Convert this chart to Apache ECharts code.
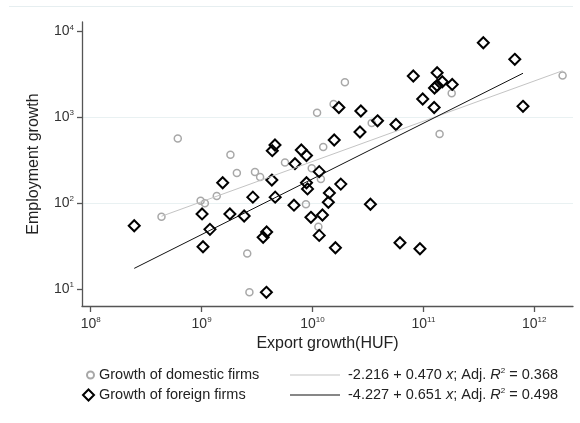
<!DOCTYPE html>
<html>
<head>
<meta charset="utf-8">
<script src="https://cdn.jsdelivr.net/npm/echarts@6/dist/echarts.min.js"></script>
<style>
html, body { margin: 0; padding: 0; background: #fff; }
#chart { width: 580px; height: 423px; }
</style>
</head>
<body>
<div id="chart"></div>
<script>
// export growth (HUF) vs employment growth, both on log scale
var domesticX = [4.35e8, 6.1e8, 9.8e8, 1.07e9, 1.37e9, 1.82e9, 2.08e9, 2.58e9, 2.70e9, 3.03e9, 3.37e9, 5.65e9,
                 8.73e9, 9.84e9, 1.10e10, 1.13e10, 1.19e10, 1.25e10, 1.55e10, 1.96e10, 3.42e10, 1.40e11, 1.80e11, 1.80e12];
var domesticY = [69, 565, 106, 99, 121, 365, 224, 25.7, 9.1, 230, 201, 297,
                 96.6, 254, 1127, 52.9, 190, 450, 1426, 2560, 855, 637, 1900, 3060];

var foreignX = [2.47e8, 1.01e9, 1.03e9, 1.19e9, 1.55e9, 1.80e9, 2.42e9, 2.90e9, 3.59e9, 3.86e9,
                3.84e9, 4.30e9, 4.34e9, 4.59e9, 4.61e9, 6.81e9, 6.95e9, 7.93e9, 8.83e9, 8.83e9,
                9.02e9, 9.68e9, 1.15e10, 1.15e10, 1.23e10, 1.39e10, 1.42e10, 1.57e10, 1.61e10, 1.73e10,
                1.80e10, 2.68e10, 2.73e10, 3.33e10, 3.86e10, 5.66e10, 6.15e10, 8.11e10, 9.31e10, 9.86e10,
                1.25e11, 1.26e11, 1.33e11, 1.33e11, 1.48e11, 1.82e11, 3.47e11, 6.67e11, 7.91e11];
var foreignY = [54.3, 74.5, 30.9, 49.3, 172, 74.5, 70.5, 117, 39.8, 45.9,
                9.1, 185, 407, 474, 117, 94.3, 287, 415, 358, 172,
                146, 68.1, 232, 41.9, 72.4, 102, 131, 542, 30.1, 1297,
                166, 672, 1180, 96.6, 908, 822, 34.4, 3020, 29.3, 1630,
                1297, 2190, 2340, 3300, 2590, 2410, 7380, 4730, 1340];

// fitted lines, end points over each group's range
var domesticFitX = [4.35e8, 1.80e12];
var domesticFitY = [70, 3480];
var foreignFitX = [2.47e8, 7.91e11];
var foreignFitY = [17.3, 3250];

var xTicks = [1e8, 1e9, 1e10, 1e11, 1e12];
var yTicks = [1e1, 1e2, 1e3, 1e4];

var domesticName = 'Growth of domestic firms';
var foreignName = 'Growth of foreign firms';
var domesticFit = '-2.216 + 0.470 {i|x}; Adj. {i|R}{sup|2} = 0.368';
var foreignFit = '-4.227 + 0.651 {i|x}; Adj. {i|R}{sup|2} = 0.498';

var FONT = '"Liberation Sans", Arial, sans-serif';
var LEGEND_SIZE = 14.5;

function zip(xs, ys) {
    return xs.map(function (x, i) { return [x, ys[i]]; });
}

function powLabel(v) {
    return '{b|10}{sup|' + Math.round(Math.log10(v)) + '}';
}

var tickRich = {
    b: { fontSize: 14, fontFamily: FONT, color: '#333', lineHeight: 16 },
    sup: { fontSize: 8, fontFamily: FONT, color: '#333', lineHeight: 10, verticalAlign: 'top' }
};
var legendRich = {
    i: { fontSize: LEGEND_SIZE, fontFamily: FONT, color: '#222', fontStyle: 'italic', lineHeight: 16 },
    sup: { fontSize: 8, fontFamily: FONT, color: '#222', lineHeight: 10, verticalAlign: 'top' }
};

function legendOf(name, left, top, w, h, text, icon) {
    return {
        data: [icon ? { name: name, icon: icon } : name],
        left: left,
        top: top,
        orient: 'vertical',
        itemWidth: w,
        itemHeight: h,
        selectedMode: false,
        padding: 0,
        formatter: function () { return text || name; },
        textStyle: {
            fontSize: LEGEND_SIZE, fontFamily: FONT, color: '#222', lineHeight: 16,
            padding: text ? [0, 0, 0, 3] : 0, rich: legendRich
        }
    };
}

var chart = echarts.init(document.getElementById('chart'), null, { renderer: 'canvas' });

chart.setOption({
    animation: false,
    backgroundColor: '#fff',
    grid: { left: 82, right: 7, top: 22, bottom: 117, containLabel: false, outerBoundsMode: 'none' },
    xAxis: {
        type: 'log',
        logBase: 10,
        min: 8.35e7,
        max: 2.234e12,
        name: 'Export growth(HUF)',
        nameLocation: 'middle',
        nameGap: 29,
        nameTextStyle: { fontSize: 16, fontFamily: FONT, color: '#222' },
        axisLine: { show: true, lineStyle: { color: '#555', width: 1.3 } },
        axisTick: { show: true, length: 6, customValues: xTicks, lineStyle: { color: '#555', width: 1.3 } },
        axisLabel: { customValues: xTicks, margin: 10, formatter: powLabel, rich: tickRich },
        splitLine: { show: false }
    },
    yAxis: {
        type: 'log',
        logBase: 10,
        min: 6.3,
        max: 12870,
        name: 'Employment growth',
        nameLocation: 'middle',
        nameGap: 40,
        nameTextStyle: { fontSize: 16, fontFamily: FONT, color: '#222' },
        axisLine: { show: true, lineStyle: { color: '#555', width: 1.3 } },
        axisTick: { show: true, length: 5, customValues: yTicks, lineStyle: { color: '#555', width: 1.3 } },
        axisLabel: { customValues: yTicks, margin: 8, formatter: powLabel, rich: tickRich },
        splitLine: {
            show: true,
            showMinLine: false,
            showMaxLine: false,
            lineStyle: { color: '#e9f1f2', width: 1 }
        }
    },
    legend: [
        legendOf(domesticName, 86, 367, 7, 7),
        legendOf(foreignName, 82, 387, 11, 11),
        legendOf('domesticFit', 290, 367, 50, 1, domesticFit, 'rect'),
        legendOf('foreignFit', 290, 387, 50, 1, foreignFit, 'rect')
    ],
    graphic: [{
        type: 'line',
        shape: { x1: 9, y1: 6.5, x2: 573, y2: 6.5 },
        style: { stroke: '#e6eef0', lineWidth: 1 },
        silent: true
    }],
    series: [
        {
            name: domesticName,
            type: 'scatter',
            symbol: 'circle',
            symbolSize: 7,
            itemStyle: { color: 'rgba(255,255,255,0)', borderColor: '#a8a8a8', borderWidth: 1.5, opacity: 1 },
            data: zip(domesticX, domesticY),
            z: 2
        },
        {
            name: foreignName,
            type: 'scatter',
            symbol: 'diamond',
            symbolSize: 11,
            itemStyle: { color: 'rgba(255,255,255,0)', borderColor: '#000', borderWidth: 2, opacity: 1 },
            data: zip(foreignX, foreignY),
            z: 3
        },
        {
            name: 'domesticFit',
            type: 'line',
            symbol: 'none',
            lineStyle: { color: '#c4c4c4', width: 1 },
            itemStyle: { color: '#c4c4c4' },
            data: zip(domesticFitX, domesticFitY),
            z: 4
        },
        {
            name: 'foreignFit',
            type: 'line',
            symbol: 'none',
            lineStyle: { color: '#111', width: 1 },
            itemStyle: { color: '#111' },
            data: zip(foreignFitX, foreignFitY),
            z: 4
        }
    ]
});
</script>
</body>
</html>
